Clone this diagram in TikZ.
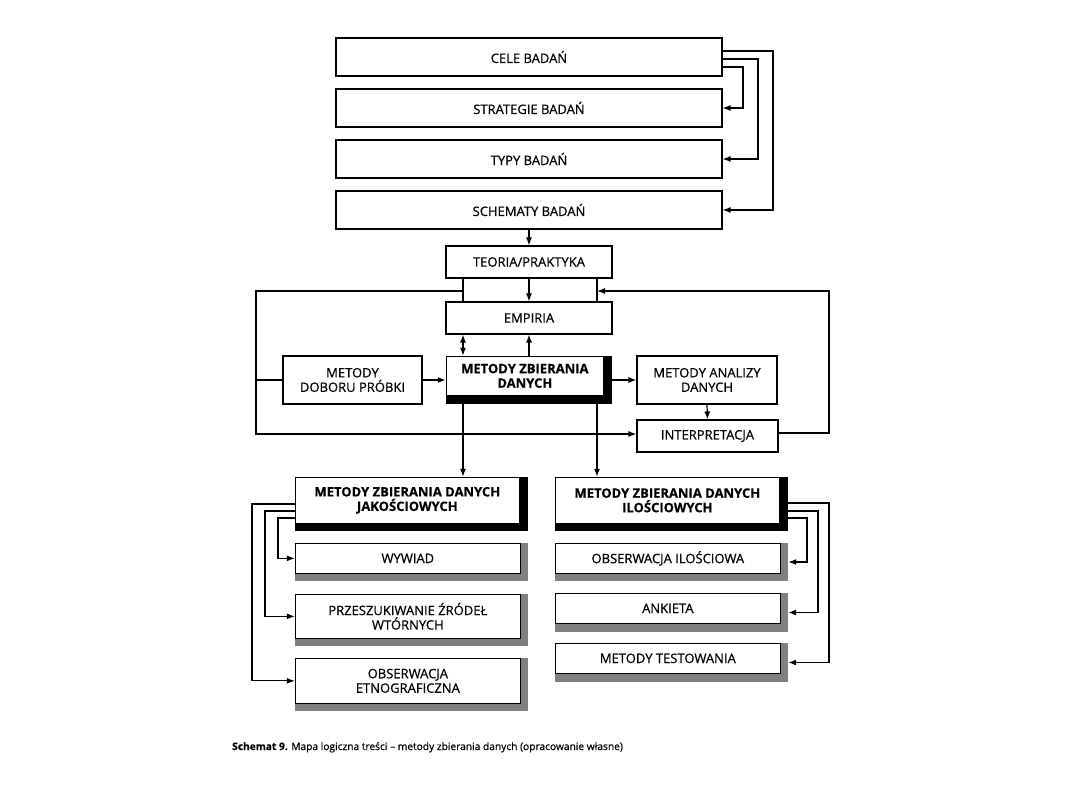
\documentclass[tikz,border=0pt]{standalone}
\usepackage{fontspec}
\setmainfont{Open Sans}[UprightFeatures={FakeBold=0.6}, BoldFeatures={FakeBold=0.4}]
\usetikzlibrary{arrows.meta,calc}
\begin{document}
\begin{tikzpicture}[x=1pt,y=-1pt,
  box/.style={draw, line width=1.1pt, fill=white, inner sep=0pt, align=center, font=\fontsize{13}{14.5}\selectfont},
  bbox/.style={box, font=\fontsize{13}{14.5}\selectfont\bfseries},
  blk/.style={fill=black, inner sep=0pt},
  gry/.style={fill=black!50, inner sep=0pt},
  ln/.style={line width=1.2pt},
  arr/.style={line width=1.2pt, -{Latex[length=8pt,width=6pt]}},
  darr/.style={line width=1.2pt, {Latex[length=8pt,width=6pt]}-{Latex[length=8pt,width=6pt]}}
]
\useasboundingbox[fill=white] (0,0) rectangle (1080,810);

% top column
\node[box, minimum width=386pt, minimum height=38pt] (cele) at (529,57) {CELE BADAŃ};
\node[box, minimum width=386pt, minimum height=38pt] (strat) at (529,108) {STRATEGIE BADAŃ};
\node[box, minimum width=386pt, minimum height=38pt] (typy) at (529,159) {TYPY BADAŃ};
\node[box, minimum width=386pt, minimum height=38pt] (schem) at (529,210) {SCHEMATY BADAŃ};

\node[box, minimum width=166pt, minimum height=32pt] (teoria) at (529,262) {TEORIA/PRAKTYKA};
\node[box, minimum width=166pt, minimum height=32pt] (emp) at (529,318) {EMPIRIA};

\node[box, minimum width=139pt, minimum height=48pt] (dob) at (352.5,380) {METODY\\DOBORU PRÓBKI};
\node[blk, minimum width=166pt, minimum height=48pt] (mzd) at (529,380) {};
\node[bbox, anchor=north west, minimum width=157pt, minimum height=39pt] (mzdt) at (mzd.north west) {METODY ZBIERANIA\\DANYCH};
\node[box, minimum width=140pt, minimum height=48pt] (mad) at (707,380) {METODY ANALIZY\\DANYCH};
\node[box, minimum width=141pt, minimum height=32pt] (interp) at (707.5,436) {INTERPRETACJA};

% lower left
\node[blk, minimum width=233pt, minimum height=54pt] (jak) at (411.5,504) {};
\node[bbox, anchor=north west, minimum width=224pt, minimum height=46pt] (jakt) at (jak.north west) {METODY ZBIERANIA DANYCH\\JAKOŚCIOWYCH};
\node[gry, minimum width=233pt, minimum height=38pt] (wywiad) at (411.5,562) {};
\node[box, anchor=north west, minimum width=225pt, minimum height=30pt] (wywiadt) at (wywiad.north west) {WYWIAD};
\node[gry, minimum width=233pt, minimum height=52pt] (przesz) at (411.5,620) {};
\node[box, anchor=north west, minimum width=225pt, minimum height=44pt] (przeszt) at (przesz.north west) {PRZESZUKIWANIE ŹRÓDEŁ\\WTÓRNYCH};
\node[gry, minimum width=233pt, minimum height=53pt] (obsetn) at (411.5,684.5) {};
\node[box, anchor=north west, minimum width=225pt, minimum height=45pt] (obsetnt) at (obsetn.north west) {OBSERWACJA\\ETNOGRAFICZNA};

% lower right
\node[blk, minimum width=233pt, minimum height=54pt] (ilo) at (671.5,504) {};
\node[bbox, anchor=north west, minimum width=224pt, minimum height=46pt] (ilot) at (ilo.north west) {METODY ZBIERANIA DANYCH\\ILOŚCIOWYCH};
\node[gry, minimum width=233pt, minimum height=38pt] (obsil) at (671.5,562) {};
\node[box, anchor=north west, minimum width=225pt, minimum height=30pt] (obsilt) at (obsil.north west) {OBSERWACJA ILOŚCIOWA};
\node[gry, minimum width=233pt, minimum height=39pt] (ank) at (671.5,612.5) {};
\node[box, anchor=north west, minimum width=225pt, minimum height=30pt] (ankt) at (ank.north west) {ANKIETA};
\node[gry, minimum width=233pt, minimum height=39pt] (mettest) at (671.5,662.5) {};
\node[box, anchor=north west, minimum width=225pt, minimum height=30pt] (mettestt) at (mettest.north west) {METODY TESTOWANIA};

% caption
\node[anchor=base west, font=\fontsize{10.2}{12}\selectfont, inner sep=0pt] (cap) at (232,750) {\textbf{Schemat 9.} Mapa logiczna treści – metody zbierania danych (opracowanie własne)};

% connectors top
\draw[arr] (cele.east |- 0,51) -- (773,51) |- (schem.east);
\draw[arr] (cele.east |- 0,59) -- (758,59) |- (typy.east);
\draw[arr] (cele.east |- 0,67) -- (743,67) |- (strat.east);
\draw[arr] (schem.south) -- (teoria.north);
\draw[arr] (teoria.south) -- (emp.north);
\draw[ln] (teoria.south -| 463,0) -- (emp.north -| 463,0);
\draw[ln] (teoria.south -| 597,0) -- (emp.north -| 597,0);
\coordinate (jl) at (463,291);
\coordinate (jr) at (597,291);
\draw[arr] (jl) -- (256,291) |- (interp.west |- 0,434);
\draw[ln] (dob.west) -- (256,380);
\draw[arr] (interp.east |- 0,433) -| (829,291) -- (jr);

\draw[darr] (emp.south -| 463,0) -- (mzd.north -| 463,0);
\draw[arr] (mzd.north) -- (emp.south);
\draw[arr] (dob.east) -- (mzd.west);
\draw[arr] (mzd.east) -- (mad.west);
\draw[arr] (mad.south) -- (interp.north);
\draw[arr] (mzd.south -| 463,0) -- (jak.north -| 463,0);
\draw[arr] (mzd.south -| 597,0) -- (ilo.north -| 597,0);

% lower left connectors
\draw[arr] (jakt.west |- 0,504) -- (252,504) |- (obsetnt.west);
\draw[arr] (jakt.west |- 0,511) -- (265,511) |- (przeszt.west);
\draw[arr] (jakt.west |- 0,518) -- (278,518) |- (wywiadt.west);

% lower right connectors
\draw[arr] (ilo.east |- 0,503) -- (829,503) |- (mettest.east);
\draw[arr] (ilo.east |- 0,511) -- (818,511) |- (ank.east);
\draw[arr] (ilo.east |- 0,518) -- (807,518) |- (obsil.east);
\end{tikzpicture}
\end{document}
